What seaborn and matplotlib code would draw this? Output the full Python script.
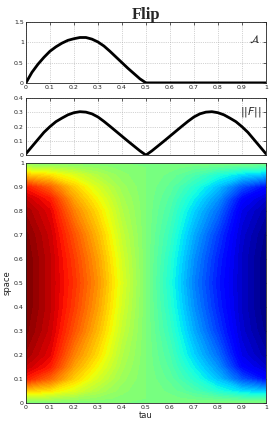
import numpy as np
import pandas as pd
import seaborn as sns
import matplotlib
matplotlib.use("Agg")
import matplotlib.pyplot as plt

# curve samples
tau_curve = [0, 0.025, 0.05, 0.075, 0.1, 0.125, 0.15, 0.175, 0.2, 0.225, 0.25,
             0.275, 0.3, 0.325, 0.35, 0.375, 0.4, 0.425, 0.45, 0.475, 0.5,
             0.525, 0.55, 0.575, 0.6, 0.625, 0.65, 0.675, 0.7, 0.725, 0.75,
             0.775, 0.8, 0.825, 0.85, 0.875, 0.9, 0.925, 0.95, 0.975, 1.0]
A_vals = [0, 0.26, 0.46, 0.63, 0.78, 0.89, 0.98, 1.05, 1.09, 1.12, 1.12,
          1.08, 1.01, 0.91, 0.78, 0.64, 0.50, 0.36, 0.23, 0.10, 0,
          0, 0, 0, 0, 0, 0, 0, 0, 0, 0,
          0, 0, 0, 0, 0, 0, 0, 0, 0, 0]
F_vals = [0.01, 0.06, 0.11, 0.16, 0.20, 0.235, 0.26, 0.283, 0.298, 0.305, 0.302,
          0.29, 0.268, 0.237, 0.203, 0.168, 0.133, 0.098, 0.064, 0.03, 0.0,
          0.03, 0.064, 0.098, 0.133, 0.168, 0.203, 0.237, 0.268, 0.29, 0.302,
          0.305, 0.298, 0.283, 0.26, 0.235, 0.20, 0.16, 0.11, 0.06, 0.01]

# field values on a coarse grid (rows = space, columns = tau)
tau_grid = [0, 0.1, 0.2, 0.3, 0.4, 0.5, 0.6, 0.7, 0.8, 0.9, 1.0]
space_grid = [0, 0.02, 0.05, 0.1, 0.15, 0.2, 0.3, 0.4, 0.5,
              0.6, 0.7, 0.8, 0.85, 0.9, 0.95, 0.98, 1.0]
field = [
    [0.5, 0.5, 0.5, 0.5, 0.5, 0.5, 0.5, 0.5, 0.5, 0.5, 0.5],
    [0.575, 0.562, 0.543, 0.525, 0.509, 0.5, 0.491, 0.475, 0.457, 0.438, 0.425],
    [0.69, 0.663, 0.614, 0.56, 0.521, 0.5, 0.479, 0.44, 0.386, 0.337, 0.31],
    [0.875, 0.799, 0.688, 0.605, 0.538, 0.5, 0.462, 0.395, 0.312, 0.201, 0.125],
    [0.935, 0.878, 0.734, 0.64, 0.552, 0.5, 0.448, 0.36, 0.266, 0.122, 0.065],
    [0.965, 0.909, 0.77, 0.67, 0.564, 0.5, 0.436, 0.33, 0.23, 0.091, 0.035],
    [0.99, 0.931, 0.82, 0.708, 0.586, 0.5, 0.414, 0.292, 0.18, 0.069, 0.01],
    [1.0, 0.94, 0.844, 0.735, 0.604, 0.5, 0.396, 0.265, 0.156, 0.06, 0.0],
    [1.0, 0.94, 0.855, 0.75, 0.615, 0.5, 0.385, 0.25, 0.145, 0.06, 0.0],
    [1.0, 0.94, 0.844, 0.735, 0.604, 0.5, 0.396, 0.265, 0.156, 0.06, 0.0],
    [0.99, 0.931, 0.82, 0.708, 0.586, 0.5, 0.414, 0.292, 0.18, 0.069, 0.01],
    [0.965, 0.909, 0.77, 0.67, 0.564, 0.5, 0.436, 0.33, 0.23, 0.091, 0.035],
    [0.935, 0.878, 0.734, 0.64, 0.552, 0.5, 0.448, 0.36, 0.266, 0.122, 0.065],
    [0.875, 0.799, 0.688, 0.605, 0.538, 0.5, 0.462, 0.395, 0.312, 0.201, 0.125],
    [0.69, 0.663, 0.614, 0.56, 0.521, 0.5, 0.479, 0.44, 0.386, 0.337, 0.31],
    [0.575, 0.562, 0.543, 0.525, 0.509, 0.5, 0.491, 0.475, 0.457, 0.438, 0.425],
    [0.5, 0.5, 0.5, 0.5, 0.5, 0.5, 0.5, 0.5, 0.5, 0.5, 0.5],
]

xticks = [0, 0.1, 0.2, 0.3, 0.4, 0.5, 0.6, 0.7, 0.8, 0.9, 1]
xticklabels = ["0", "0.1", "0.2", "0.3", "0.4", "0.5", "0.6", "0.7", "0.8", "0.9", "1"]

sns.set_style("white")
plt.rcParams["font.family"] = ["DejaVu Sans"]

df = pd.DataFrame({"tau": tau_curve, "A": A_vals, "F": F_vals})

fig = plt.figure(figsize=(2.73, 4.25), dpi=100)
ax1 = fig.add_axes([0.095, 0.805, 0.879, 0.143])
ax2 = fig.add_axes([0.095, 0.635, 0.879, 0.134])
ax3 = fig.add_axes([0.095, 0.052, 0.879, 0.565])

def style(ax):
    ax.tick_params(direction="in", top=True, right=True, length=2, width=0.5,
                   labelsize=4.5, pad=1.5, colors="#222222")
    for sp in ax.spines.values():
        sp.set_linewidth(0.6)
        sp.set_color("#222222")

# top curve
sns.lineplot(data=df, x="tau", y="A", ax=ax1, color="black", linewidth=2)
ax1.set_xlim(0, 1)
ax1.set_ylim(0, 1.5)
ax1.set_xticks(xticks)
ax1.set_xticklabels(xticklabels)
ax1.set_yticks([0, 0.5, 1, 1.5])
ax1.set_yticklabels(["0", "0.5", "1", "1.5"])
ax1.grid(True, linestyle=":", color="#aaaaaa", linewidth=0.5)
ax1.set_xlabel("")
ax1.set_ylabel("")
ax1.text(0.975, 0.72, r"$\mathcal{A}$", transform=ax1.transAxes,
         ha="right", va="center", fontsize=8)
ax1.set_title("Flip", fontsize=12, fontweight="bold", family="Liberation Serif", pad=2)
style(ax1)

# second curve
sns.lineplot(data=df, x="tau", y="F", ax=ax2, color="black", linewidth=2)
ax2.set_xlim(0, 1)
ax2.set_ylim(0, 0.4)
ax2.set_xticks(xticks)
ax2.set_xticklabels([])
ax2.set_yticks([0, 0.1, 0.2, 0.3, 0.4])
ax2.set_yticklabels(["0", "0.1", "0.2", "0.3", "0.4"])
ax2.grid(True, linestyle=":", color="#aaaaaa", linewidth=0.5)
ax2.set_xlabel("")
ax2.set_ylabel("")
ax2.text(0.985, 0.75, r"$||F||$", transform=ax2.transAxes,
         ha="right", va="center", fontsize=8)
style(ax2)

# field
T, S = np.meshgrid(tau_grid, space_grid)
ax3.contourf(T, S, np.array(field), levels=np.linspace(0, 1, 65), cmap="jet",
             vmin=0, vmax=1, antialiased=False)
ax3.set_xlim(0, 1)
ax3.set_ylim(0, 1)
ax3.set_xticks(xticks)
ax3.set_xticklabels(xticklabels)
ax3.set_yticks(xticks)
ax3.set_yticklabels(xticklabels)
ax3.set_xlabel("tau", fontsize=6, labelpad=1)
ax3.set_ylabel("space", fontsize=6, labelpad=2)
style(ax3)

fig.savefig("out.png", dpi=100)
